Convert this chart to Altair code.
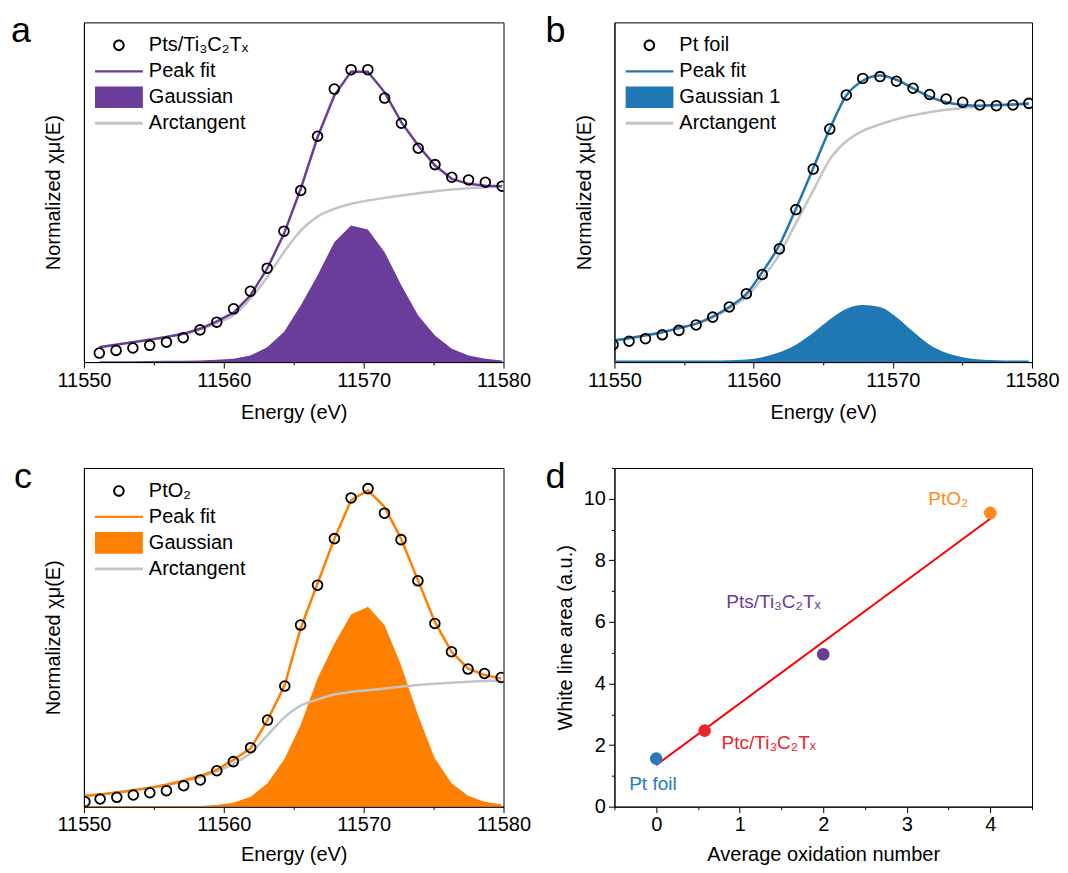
import altair as alt
import pandas as pd

FONT = "Liberation Sans"
GRAY = "#c4c4c4"

# ---------------- panel a : Pts/Ti3C2Tx ----------------
a_energy = [11551.1, 11552.3, 11553.5, 11554.7, 11555.9, 11557.1, 11558.3, 11559.5, 11560.7,
            11561.9, 11563.1, 11564.3, 11565.5, 11566.7, 11567.9, 11569.1, 11570.3, 11571.5,
            11572.7, 11573.9, 11575.1, 11576.3, 11577.5, 11578.7, 11579.9]
a_data = [0.050, 0.065, 0.078, 0.093, 0.111, 0.135, 0.179, 0.222, 0.296, 0.394, 0.522, 0.728,
          0.954, 1.256, 1.518, 1.626, 1.626, 1.468, 1.328, 1.189, 1.098, 1.028, 1.013, 1.000, 0.978]
a_fit = [0.083, 0.096, 0.111, 0.124, 0.139, 0.157, 0.185, 0.226, 0.275, 0.370, 0.519, 0.713,
         0.963, 1.250, 1.482, 1.615, 1.615, 1.500, 1.333, 1.204, 1.093, 1.019, 0.991, 0.981, 0.978]
a_arctan = [0.083, 0.096, 0.111, 0.124, 0.139, 0.157, 0.181, 0.218, 0.262, 0.352, 0.472, 0.611,
            0.731, 0.809, 0.852, 0.880, 0.898, 0.913, 0.926, 0.939, 0.950, 0.959, 0.967, 0.972, 0.978]
a_gauss = [0.005, 0.005, 0.005, 0.006, 0.007, 0.008, 0.009, 0.013, 0.019, 0.037, 0.083, 0.167,
           0.315, 0.482, 0.667, 0.759, 0.737, 0.611, 0.426, 0.259, 0.148, 0.074, 0.037, 0.019, 0.009]
a_names = ["Pts/Ti₃C₂Tₓ", "Peak fit", "Gaussian", "Arctangent"]

# ---------------- panel b : Pt foil ----------------
b_energy = [11549.9, 11551.05, 11552.23, 11553.44, 11554.63, 11555.87, 11557.06, 11558.25,
            11559.48, 11560.62, 11561.85, 11563.04, 11564.28, 11565.47, 11566.66, 11567.84,
            11569.08, 11570.26, 11571.45, 11572.64, 11573.83, 11575.02, 11576.25, 11577.44,
            11578.63, 11579.77]
b_data = [0.067, 0.080, 0.090, 0.105, 0.122, 0.143, 0.173, 0.212, 0.263, 0.337, 0.436, 0.587,
          0.743, 0.897, 1.028, 1.092, 1.099, 1.081, 1.054, 1.030, 1.013, 1.000, 0.990, 0.987,
          0.990, 0.996]
b_fit = [0.083, 0.092, 0.103, 0.115, 0.131, 0.148, 0.175, 0.212, 0.263, 0.346, 0.450, 0.590,
         0.746, 0.897, 1.026, 1.083, 1.103, 1.087, 1.054, 1.022, 1.000, 0.990, 0.987, 0.990,
         0.992, 0.995]
b_arctan = [0.083, 0.092, 0.103, 0.115, 0.131, 0.147, 0.172, 0.206, 0.252, 0.322, 0.415, 0.535,
            0.660, 0.780, 0.850, 0.890, 0.915, 0.935, 0.950, 0.962, 0.971, 0.978, 0.984, 0.988,
            0.991, 0.993]
b_gauss = [0.006, 0.006, 0.006, 0.006, 0.006, 0.006, 0.006, 0.007, 0.010, 0.019, 0.038, 0.067,
           0.113, 0.164, 0.205, 0.220, 0.212, 0.173, 0.118, 0.067, 0.036, 0.019, 0.010, 0.007,
           0.006, 0.006]
b_names = ["Pt foil", "Peak fit", "Gaussian 1", "Arctangent"]

# ---------------- panel c : PtO2 ----------------
c_energy = [11550.07, 11551.16, 11552.35, 11553.53, 11554.71, 11555.90, 11557.13, 11558.32,
            11559.50, 11560.68, 11561.92, 11563.13, 11564.36, 11565.49, 11566.70, 11567.91,
            11569.10, 11570.31, 11571.49, 11572.67, 11573.88, 11575.09, 11576.28, 11577.46,
            11578.64, 11579.83]
c_data = [0.039, 0.060, 0.073, 0.091, 0.109, 0.125, 0.164, 0.209, 0.281, 0.352, 0.461, 0.677,
          0.943, 1.420, 1.732, 2.096, 2.414, 2.487, 2.295, 2.088, 1.766, 1.432, 1.211, 1.076,
          1.041, 1.010]
c_fit = [0.085, 0.095, 0.110, 0.128, 0.148, 0.172, 0.205, 0.240, 0.290, 0.365, 0.456, 0.677,
         0.951, 1.393, 1.745, 2.096, 2.396, 2.474, 2.344, 2.096, 1.771, 1.445, 1.211, 1.081,
         1.029, 1.003]
c_arctan = [0.085, 0.095, 0.110, 0.128, 0.146, 0.168, 0.197, 0.232, 0.277, 0.335, 0.420, 0.560,
            0.700, 0.790, 0.838, 0.877, 0.898, 0.911, 0.924, 0.938, 0.951, 0.961, 0.969, 0.977,
            0.982, 0.987]
c_gauss = [0.005, 0.005, 0.005, 0.005, 0.005, 0.005, 0.005, 0.006, 0.013, 0.031, 0.078, 0.182,
           0.377, 0.638, 1.002, 1.276, 1.503, 1.563, 1.420, 1.107, 0.716, 0.377, 0.182, 0.086,
           0.039, 0.018]
c_names = ["PtO₂", "Peak fit", "Gaussian", "Arctangent"]

# ---------------- panel d : white line area ----------------
d_names = ["Pt foil", "Ptc/Ti₃C₂Tₓ", "Pts/Ti₃C₂Tₓ", "PtO₂"]
d_ox = [0.0, 0.58, 2.0, 4.0]
d_area = [1.56, 2.47, 4.95, 9.54]
d_fit_x = [0.0, 4.0]
d_fit_y = [1.35, 9.35]

# styles
d_point_colors = ["#2a7ab9", "#e8262b", "#6a3d9a", "#ff8c1a"]
d_label_dx = [-27, 17, -97, -62]
d_label_dy = [25, 12, -52, -14]
LETTER_Y = -8

# legend symbol paths (unit square -1..1)
RING = ("M-0.24,0A0.24,0.24,0,1,0,0.24,0A0.24,0.24,0,1,0,-0.24,0Z"
        "M-0.16,0A0.16,0.16,0,1,1,0.16,0A0.16,0.16,0,1,1,-0.16,0Z")
LINE = "M-1,-0.05L1,-0.05L1,0.05L-1,0.05Z"
RECT = "M-1,-0.45L1,-0.45L1,0.45L-1,0.45Z"
GLINE = "M-1,-0.06L1,-0.06L1,0.06L-1,0.06Z"


def tick_cond(test, big, small):
    return {"condition": {"test": test, "value": big}, "value": small}


def e_axis(tp):
    return alt.Axis(
        values=[11550, 11555, 11560, 11565, 11570, 11575, 11580],
        labelExpr="datum.value % 10 === 0 ? format(datum.value, 'd') : ''",
        tickSize=tick_cond("datum.value % 10 === 0", 6, 3),
        labelPadding=2, titlePadding=tp, labelFlush=False, labelOverlap=False,
        title="Energy (eV)")


N_AXIS = alt.Axis(ticks=False, labels=False, title="Normalized χμ(E)", titlePadding=20)


def xas_panel(energy, data, fit, arctan, gauss, color, names, ytop, letter, letter_x, interp, tp):
    df = pd.DataFrame({"E": energy, "data": data, "fit": fit, "arctan": arctan, "gauss": gauss})
    xs = alt.Scale(domain=[11550, 11580], nice=False, zero=False)
    ys = alt.Scale(domain=[0, ytop], nice=False)
    xax = e_axis(tp)

    def X():
        return alt.X("E:Q", scale=xs, axis=xax)

    def Y(f):
        return alt.Y(f + ":Q", scale=ys, axis=N_AXIS)

    base = alt.Chart(df)
    area = base.mark_area(color=color, opacity=1, clip=True, interpolate=interp).encode(x=X(), y=Y("gauss"))
    arct = base.mark_line(color=GRAY, strokeWidth=2.5, clip=True, interpolate="monotone").encode(x=X(), y=Y("arctan"))
    fitl = base.mark_line(color=color, strokeWidth=2.5, clip=True, interpolate=interp).encode(x=X(), y=Y("fit"))
    pts = base.mark_point(shape="circle", size=95, color="black", filled=False, strokeWidth=1.8,
                          opacity=1, clip=True).encode(x=X(), y=Y("data"))

    leg_props = dict(orient="none", legendX=11, legendY=10, title=None, padding=0,
                     symbolSize=2304, clipHeight=26, rowPadding=0, labelOffset=6,
                     labelFont=FONT, labelFontSize=20, labelColor="black", labelLimit=300,
                     symbolStrokeWidth=0, symbolOpacity=1)
    leg = alt.Chart(pd.DataFrame({"item": names})).transform_filter("false").mark_point(
        filled=True, opacity=1, size=2304).encode(
        color=alt.Color("item:N", scale=alt.Scale(domain=names, range=["black", color, color, GRAY]),
                        legend=alt.Legend(**leg_props)),
        shape=alt.Shape("item:N", scale=alt.Scale(domain=names, range=[RING, LINE, RECT, GLINE]),
                        legend=alt.Legend(**leg_props)),
    )
    let = alt.Chart(pd.DataFrame({"t": [letter]})).mark_text(
        font=FONT, fontSize=36, align="left", baseline="top", color="black").encode(
        text="t:N", x=alt.value(letter_x), y=alt.value(LETTER_Y))
    return alt.layer(area, arct, fitl, pts, leg, let)


panel_a = xas_panel(a_energy, a_data, a_fit, a_arctan, a_gauss, "#6a3d9a", a_names,
                    1.8889, "a", -73, "linear", 12).properties(width=420, height=340)
panel_b = xas_panel(b_energy, b_data, b_fit, b_arctan, b_gauss, "#1f77b4", b_names,
                    1.3077, "b", -69, "monotone", 12).properties(width=418, height=340)
panel_c = xas_panel(c_energy, c_data, c_fit, c_arctan, c_gauss, "#ff8000", c_names,
                    2.6484, "c", -70, "linear", 10).properties(width=420, height=339)

# ---------- panel d ----------
d_df = pd.DataFrame({"name": d_names, "ox": d_ox, "area": d_area})
fit_df = pd.DataFrame({"ox": d_fit_x, "area": d_fit_y})
dxs = alt.Scale(domain=[-0.5, 4.5], nice=False, zero=False)
dys = alt.Scale(domain=[0, 11], nice=False)
OX_AXIS = alt.Axis(values=[-0.5, 0, 0.5, 1, 1.5, 2, 2.5, 3, 3.5, 4, 4.5],
                   labelExpr="datum.value % 1 === 0 ? format(datum.value, 'd') : ''",
                   tickSize=tick_cond("datum.value % 1 === 0", 6, 3),
                   labelPadding=2, titlePadding=10, labelFlush=False, labelOverlap=False,
                   title="Average oxidation number")
WL_AXIS = alt.Axis(values=list(range(0, 12)),
                   labelExpr="datum.value % 2 === 0 ? format(datum.value, 'd') : ''",
                   tickSize=tick_cond("datum.value % 2 === 0", 6, 3),
                   labelPadding=3, titlePadding=8, labelFlush=False, labelOverlap=False,
                   title="White line area (a.u.)")


def DX():
    return alt.X("ox:Q", scale=dxs, axis=OX_AXIS)


def DY():
    return alt.Y("area:Q", scale=dys, axis=WL_AXIS)


dcol = alt.Scale(domain=d_names, range=d_point_colors)
d_line = alt.Chart(fit_df).mark_line(color="#ff0000", strokeWidth=2).encode(x=DX(), y=DY())
d_pts = alt.Chart(d_df).mark_circle(size=160, opacity=1).encode(
    x=DX(), y=DY(), color=alt.Color("name:N", scale=dcol, legend=None))
d_layers = [d_line, d_pts]
for nm, ddx, ddy in zip(d_names, d_label_dx, d_label_dy):
    d_layers.append(
        alt.Chart(d_df).transform_filter(alt.datum.name == nm).mark_text(
            font=FONT, fontSize=19, align="left", baseline="middle", dx=ddx, dy=ddy).encode(
            x=DX(), y=DY(), text="name:N",
            color=alt.Color("name:N", scale=dcol, legend=None)))
d_layers.append(
    alt.Chart(pd.DataFrame({"t": ["d"]})).mark_text(
        font=FONT, fontSize=36, align="left", baseline="top", color="black").encode(
        text="t:N", x=alt.value(-69), y=alt.value(LETTER_Y)))
panel_d = alt.layer(*d_layers).properties(width=418, height=339)

row1 = alt.hconcat(panel_a, panel_b, spacing=13).resolve_scale(color="independent", shape="independent")
row2 = alt.hconcat(panel_c, panel_d, spacing=13).resolve_scale(color="independent", shape="independent")
chart = alt.vconcat(row1, row2, spacing=34).resolve_scale(
    color="independent", shape="independent").properties(
    padding={"left": 2, "top": 4, "right": 0, "bottom": 0}
).configure_view(stroke="black", strokeWidth=1).configure_axis(
    domainColor="black", domainWidth=1, tickColor="black", tickWidth=1,
    labelColor="black", titleColor="black", labelFont=FONT, titleFont=FONT,
    labelFontSize=20, titleFontSize=20, titleFontWeight="normal", grid=False)

chart.save("out.html", embed_options={"renderer": "svg", "actions": False})
